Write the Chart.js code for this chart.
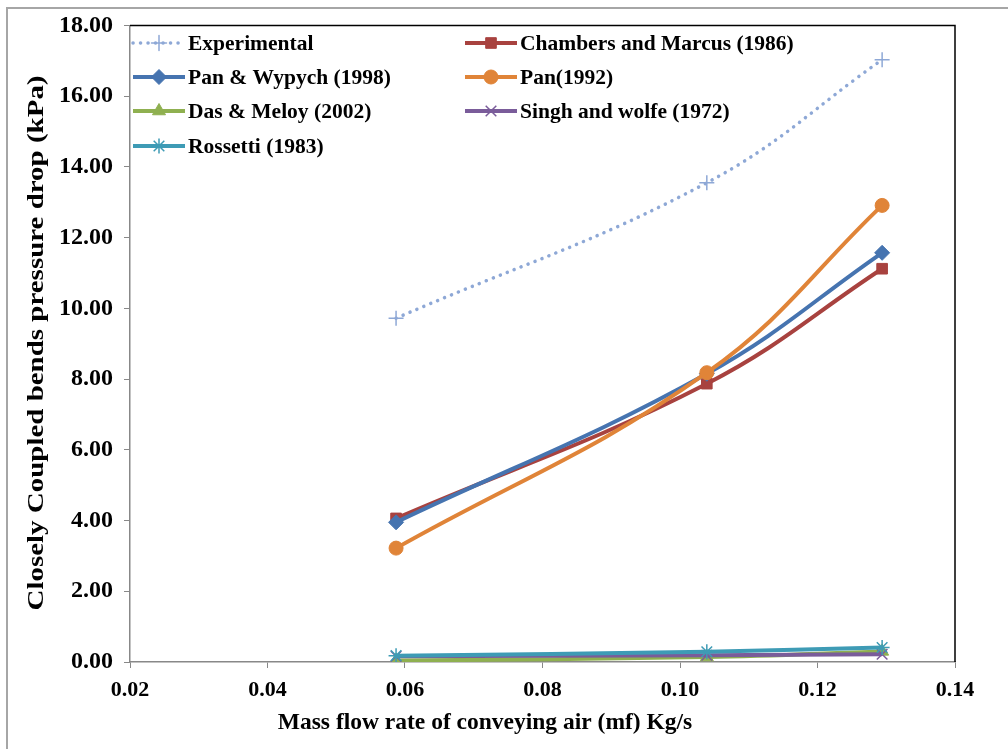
<!DOCTYPE html>
<html>
<head>
<meta charset="utf-8">
<script src="https://cdn.jsdelivr.net/npm/chart.js@4.4.1/dist/chart.umd.min.js"></script>
<style>
  html, body { margin: 0; padding: 0; background: #fff; }
  #wrap { width: 1008px; height: 749px; position: relative; }
</style>
</head>
<body>
<div id="wrap"><canvas id="c" width="1008" height="749"></canvas></div>
<script>
// ---- data ----
const massFlow = [0.0587, 0.1039, 0.1294];
const experimental = [9.72, 13.55, 17.03];
const chambersMarcus = [4.06, 7.87, 11.12];
const panWypych = [3.95, 8.15, 11.57];
const pan1992 = [3.22, 8.18, 12.91];
const dasMeloy = [0.04, 0.14, 0.30];
const singhWolfe = [0.16, 0.19, 0.22];
const rossetti = [0.18, 0.29, 0.41];
const seriesNames = ['Experimental', 'Chambers and Marcus (1986)', 'Pan & Wypych (1998)', 'Pan(1992)', 'Das & Meloy (2002)', 'Singh and wolfe (1972)', 'Rossetti (1983)'];
const xTicks = [0.02, 0.04, 0.06, 0.08, 0.10, 0.12, 0.14];
const yTicks = [0, 2, 4, 6, 8, 10, 12, 14, 16, 18];
const xTitle = 'Mass flow rate of conveying air (mf) Kg/s';
const yTitle = 'Closely Coupled bends pressure drop (kPa)';

const FONT = "'Liberation Serif', 'Times New Roman', serif";
const allSeries = [experimental, chambersMarcus, panWypych, pan1992, dasMeloy, singhWolfe, rossetti];
const styles = [
  { color: '#8EA8D6', point: 'cross', r: 7.5, pbw: 1.5, bw: 3.5, dash: [0.1, 7.4], cap: 'round' },
  { color: '#A8423F', point: 'rect', r: 7.5, pbw: 1, bw: 4 },
  { color: '#4674B0', point: 'rectRot', r: 7.5, pbw: 1, bw: 4 },
  { color: '#E08438', point: 'circle', r: 7, pbw: 1, bw: 4 },
  { color: '#8FB050', point: 'triangle', r: 7.5, pbw: 1, bw: 4 },
  { color: '#7A5C9A', point: 'crossRot', r: 7.5, pbw: 1.5, bw: 4 },
  { color: '#3E9BB5', point: 'star', r: 7.5, pbw: 1.5, bw: 4 }
];

const datasets = allSeries.map((vals, i) => ({
  label: seriesNames[i],
  data: vals.map((v, j) => ({ x: massFlow[j], y: v })),
  borderColor: styles[i].color,
  backgroundColor: styles[i].color,
  borderWidth: styles[i].bw,
  borderDash: styles[i].dash || [],
  borderCapStyle: styles[i].cap || 'butt',
  pointStyle: styles[i].point,
  pointRadius: styles[i].r,
  pointBorderWidth: styles[i].pbw,
  pointBorderColor: styles[i].color,
  pointBackgroundColor: styles[i].color,
  tension: 0.4,
  fill: false,
  order: allSeries.length - i
}));

const framePlugin = {
  id: 'frame',
  beforeDraw(chart) {
    const ctx = chart.ctx;
    ctx.save();
    ctx.fillStyle = '#fff';
    ctx.fillRect(0, 0, chart.width, chart.height);
    ctx.strokeStyle = '#A6A6A6';
    ctx.lineWidth = 2;
    ctx.strokeRect(7, 8, 1200, 900);
    ctx.restore();
  },
  afterDraw(chart) {
    const ctx = chart.ctx;
    const a = chart.chartArea;
    ctx.save();
    // top and right border of plot area
    ctx.strokeStyle = '#000';
    ctx.lineWidth = 1.5;
    ctx.beginPath();
    ctx.moveTo(a.left, a.top);
    ctx.lineTo(a.right, a.top);
    ctx.lineTo(a.right, a.bottom);
    ctx.stroke();
    // legend
    ctx.font = 'bold 21.5px ' + FONT;
    ctx.textBaseline = 'middle';
    ctx.textAlign = 'left';
    const colX = [133, 465];
    const rowY = [43, 77, 111, 146];
    chart.data.datasets.forEach((ds, i) => {
      const x0 = colX[i % 2];
      const y = rowY[Math.floor(i / 2)];
      ctx.save();
      ctx.strokeStyle = ds.borderColor;
      ctx.lineWidth = ds.borderWidth;
      ctx.setLineDash(ds.borderDash || []);
      ctx.lineCap = ds.borderCapStyle;
      ctx.beginPath();
      ctx.moveTo(x0, y);
      ctx.lineTo(x0 + 52, y);
      ctx.stroke();
      ctx.setLineDash([]);
      ctx.fillStyle = ds.pointBackgroundColor;
      ctx.strokeStyle = ds.pointBorderColor;
      ctx.lineWidth = ds.pointBorderWidth;
      Chart.helpers.drawPoint(ctx, { pointStyle: ds.pointStyle, radius: ds.pointRadius, rotation: 0, borderWidth: ds.pointBorderWidth }, x0 + 26, y);
      ctx.restore();
      ctx.fillStyle = '#000';
      ctx.fillText(ds.label, x0 + 55, y + 1);
    });
    // x axis title
    ctx.font = 'bold 23.5px ' + FONT;
    ctx.textAlign = 'center';
    ctx.fillStyle = '#000';
    ctx.fillText(xTitle, 485, 723);
    // y axis title (rotated, stretched along its length like the reference)
    ctx.save();
    ctx.translate(37, 343);
    ctx.rotate(-Math.PI / 2);
    ctx.font = 'bold 23px ' + FONT;
    const w = ctx.measureText(yTitle).width;
    ctx.scale(535 / w, 1);
    ctx.textAlign = 'center';
    ctx.textBaseline = 'middle';
    ctx.fillText(yTitle, 0, 0);
    ctx.restore();
    ctx.restore();
  }
};

new Chart(document.getElementById('c'), {
  type: 'line',
  data: { datasets },
  options: {
    responsive: false,
    animation: false,
    events: [],
    layout: { padding: { top: 25, right: 53, left: 0, bottom: 0 } },
    plugins: { legend: { display: false }, tooltip: { enabled: false } },
    scales: {
      x: {
        type: 'linear',
        min: 0.02, max: 0.14,
        afterBuildTicks: s => { s.ticks = xTicks.map(v => ({ value: v })); },
        afterFit: s => { s.height = 87; },
        ticks: {
          color: '#000',
          font: { family: FONT, size: 22, weight: 'bold' },
          padding: 9,
          maxRotation: 0,
          callback: v => Number(v).toFixed(2)
        },
        grid: { drawOnChartArea: false, drawTicks: true, tickLength: 6, color: '#888' },
        border: { color: '#888', width: 1.5 },
        title: { display: false }
      },
      y: {
        type: 'linear',
        min: 0, max: 18,
        afterBuildTicks: s => { s.ticks = yTicks.map(v => ({ value: v })); },
        afterFit: s => { s.width = 130; },
        ticks: {
          color: '#000',
          font: { family: FONT, size: 24, weight: 'bold' },
          padding: 11,
          callback: v => Number(v).toFixed(2)
        },
        grid: { drawOnChartArea: false, drawTicks: true, tickLength: 6, color: '#888' },
        border: { color: '#888', width: 1.5 },
        title: { display: false, text: yTitle }
      }
    }
  },
  plugins: [framePlugin]
});
</script>
</body>
</html>
